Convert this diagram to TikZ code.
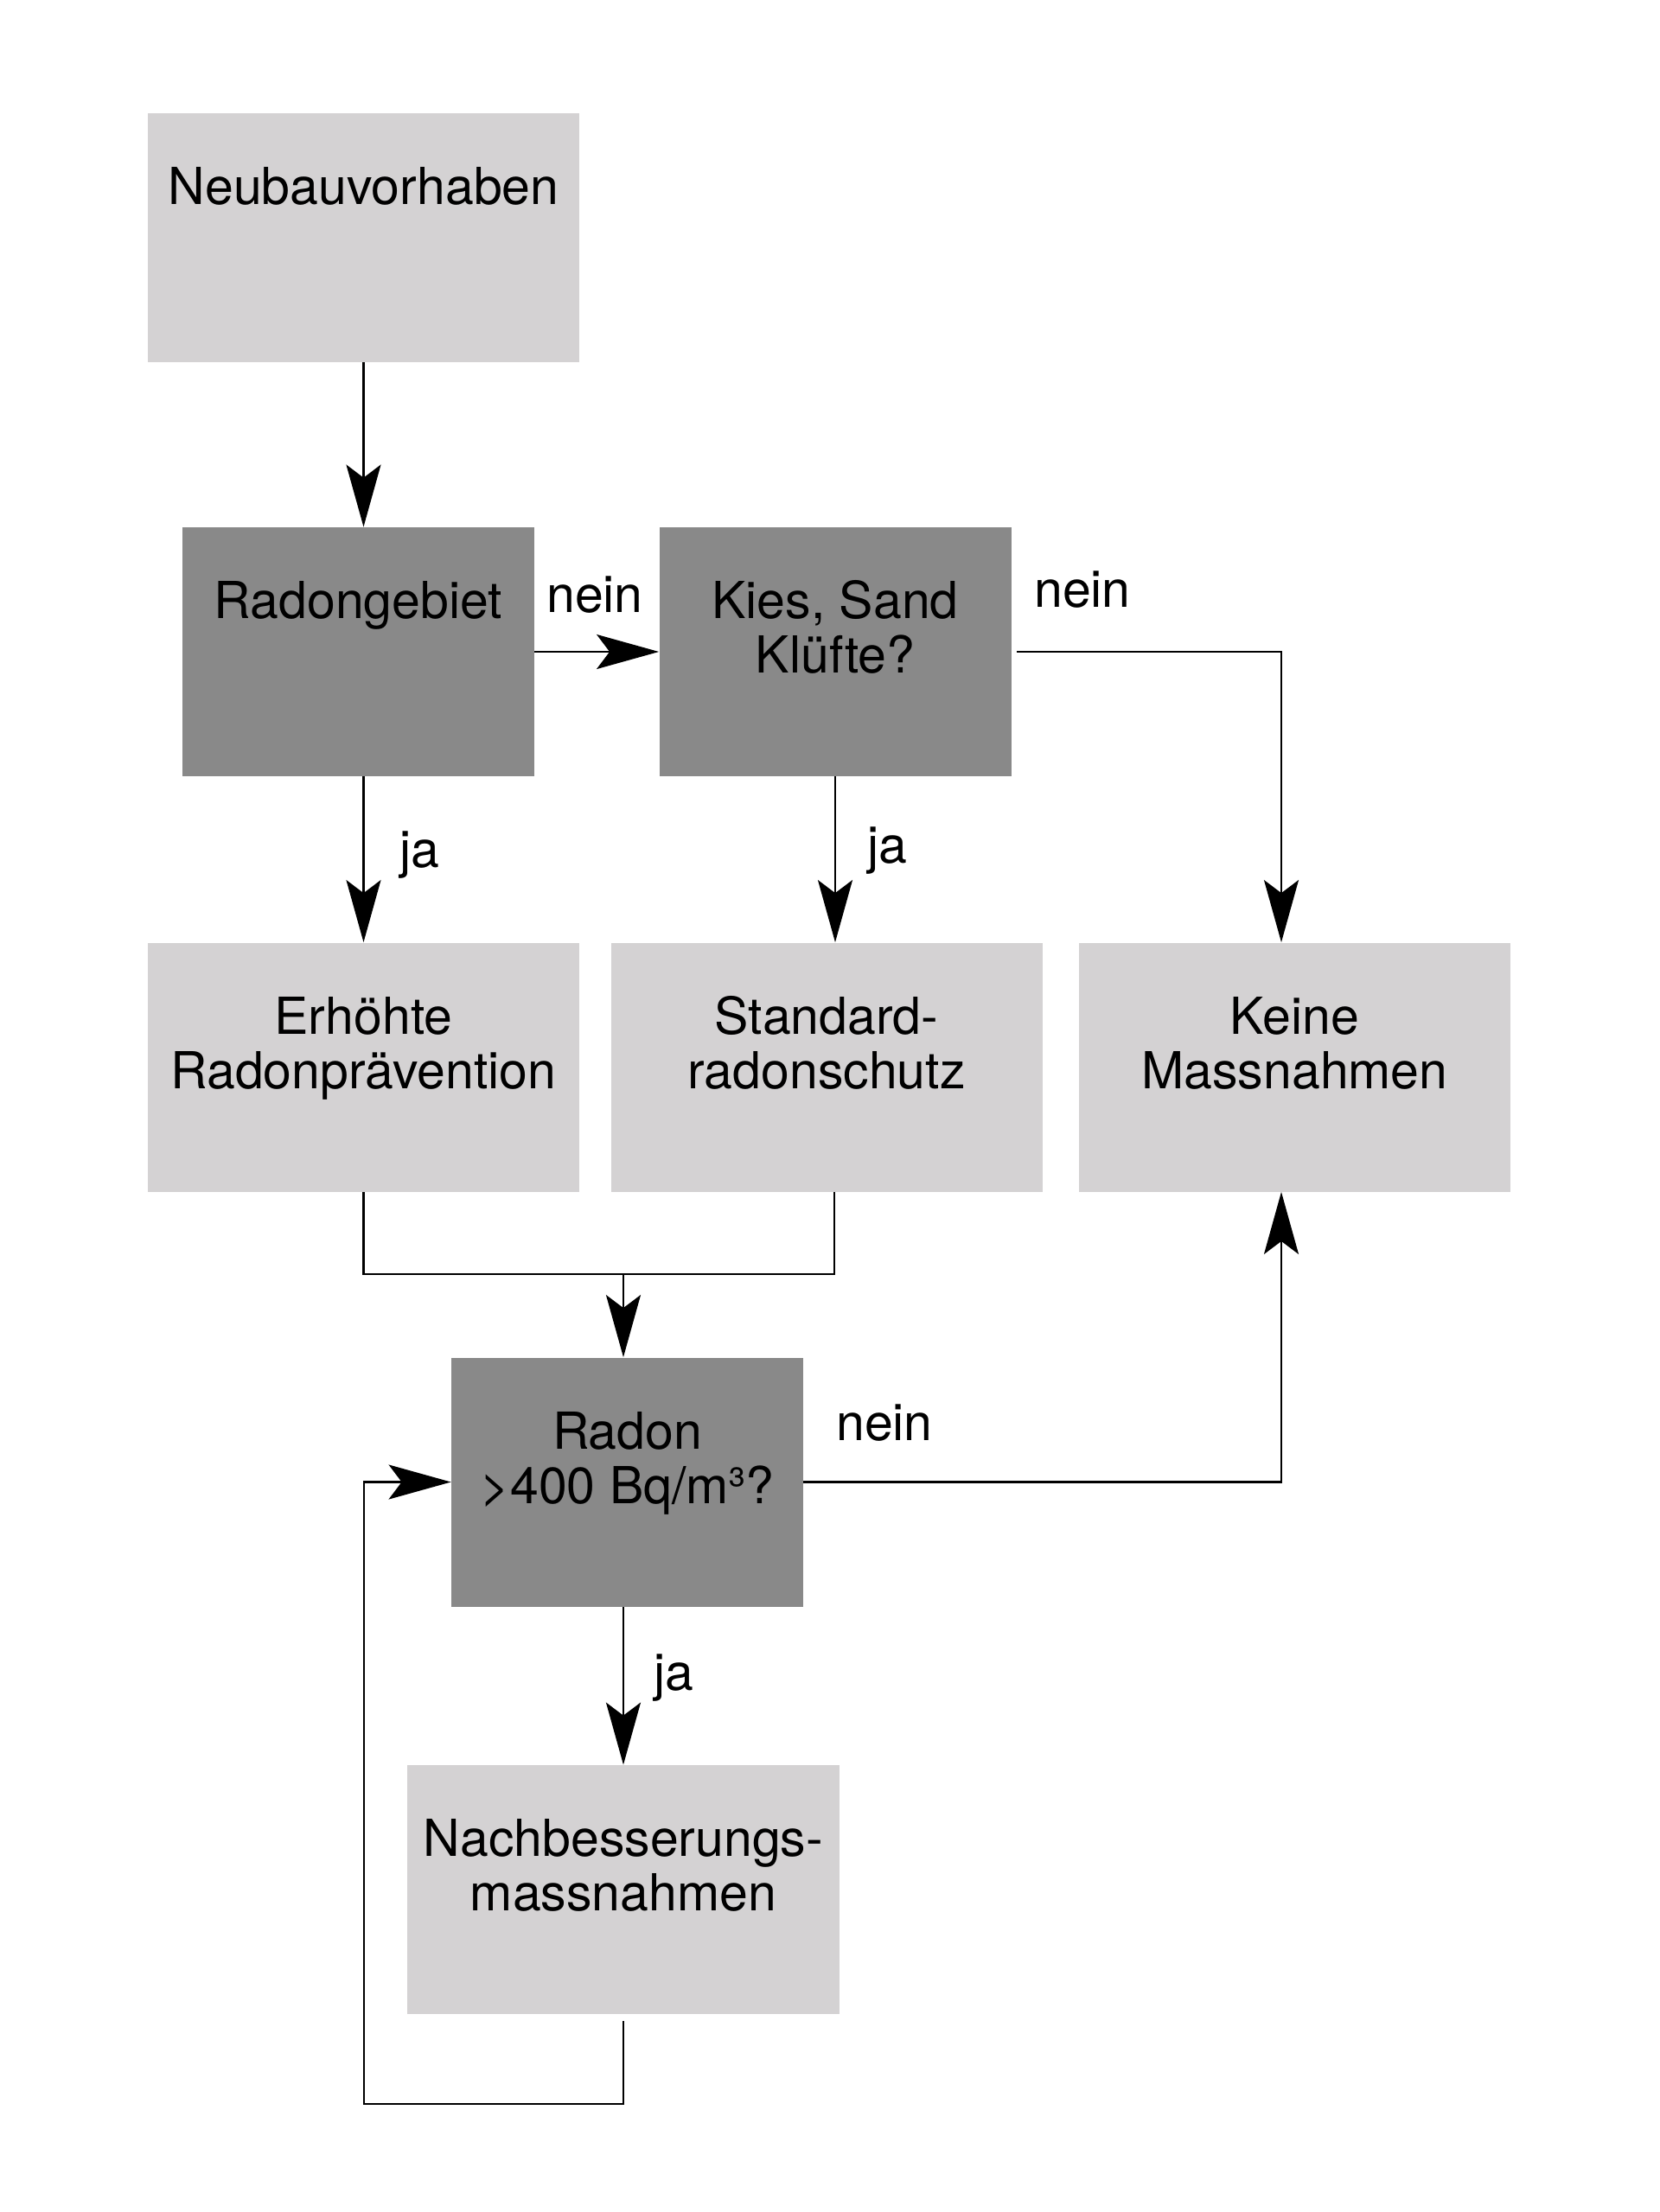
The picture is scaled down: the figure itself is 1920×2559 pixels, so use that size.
\documentclass[tikz,border=0pt]{standalone}
\usepackage{fontspec}
\setmainfont{TeX Gyre Heros}
\usetikzlibrary{arrows.meta,calc}
\definecolor{lightbox}{RGB}{212,210,211}
\definecolor{darkbox}{RGB}{137,137,137}
\newcommand\figfont{\fontsize{29.5pt}{31.5pt}\selectfont}
\newcommand\twoline[2]{\begin{tabular}[t]{@{}c@{}}#1\\#2\end{tabular}}
\begin{document}
\begin{tikzpicture}[x=0.5pt,y=-0.5pt,
  lbox/.style={fill=lightbox,draw=none,inner sep=0,minimum width=249.5pt,minimum height=144pt},
  dbox/.style={fill=darkbox,draw=none,inner sep=0,minimum width=203.5pt,minimum height=144pt},
  txt/.style={font=\figfont,anchor=base,inner sep=0},
  conn/.style={line width=1.1pt,black},
  arr/.style={conn,-{Stealth[length=36pt,width=20pt,inset=7.5pt]}}]
\fill[white] (0,0) rectangle (1920,2559);
\useasboundingbox (0,0) rectangle (1920,2559);
% boxes
\node[lbox] (N) at (420.5,275) {};
\node[dbox] (R) at (414.5,754) {};
\node[dbox] (K) at (966,754) {};
\node[lbox] (E) at (420.5,1234.5) {};
\node[lbox] (S) at (956,1234.5) {};
\node[lbox] (M) at (1497.5,1234.5) {};
\node[dbox] (Q) at (725.5,1714.5) {};
\node[lbox,minimum width=250pt] (B) at (721,2186) {};
% box texts
\node[txt] (tN) at (420.5,236) {Neubauvorhaben};
\node[txt] (tR) at (414.5,715) {Radongebiet};
\node[txt] (tK) at (966,715) {\twoline{Kies, Sand}{Klüfte?}};
\node[txt] (tE) at (420.5,1196) {\twoline{Erhöhte}{Radonprävention}};
\node[txt] (tS) at (956,1196) {\twoline{Standard-}{radonschutz}};
\node[txt] (tM) at (1497.5,1196) {\twoline{Keine}{Massnahmen}};
\node[txt] (tQ) at (725.5,1676) {\twoline{Radon}{>400 Bq/m³?}};
\node[txt] (tB) at (721,2147) {\twoline{Nachbesserungs-}{massnahmen}};
% labels
\node[txt] (l1) at (688,708) {nein};
\node[txt] (l2) at (1252,702) {nein};
\node[txt] (l3) at (485,1003) {ja};
\node[txt] (l4) at (1026,998) {ja};
\node[txt] (l5) at (1023,1666) {nein};
\node[txt] (l6) at (779,1955) {ja};
% helper coordinates
\coordinate (Mtop) at ([xshift=-7.75pt]M.north);
\coordinate (Mbot) at ([xshift=-7.75pt]M.south);
\coordinate (mergeR) at (965,1474);
\coordinate (mergeC) at (721,1474);
\coordinate (loopB) at (421,2434);
% connectors
\draw[arr] (N.south) -- (N.south |- R.north);
\draw[arr] (R.east) -- (K.west);
\draw[arr] ([xshift=3pt]K.east) -| (Mtop);
\draw[arr] (E.north |- R.south) -- (E.north);
\draw[arr] (K.south) -- (K.south |- S.north);
\draw[conn] (mergeR |- S.south) -- (mergeR) -- (E.south |- mergeR) -- (E.south);
\draw[arr] (mergeC) -- (mergeC |- Q.north);
\draw[arr] (Q.east) -| (Mbot);
\draw[arr] (B.north |- Q.south) -- (B.north);
\draw[arr] ([yshift=-4pt]B.south) -- (B.south |- loopB) -- (loopB) -- (loopB |- Q.west) -- (Q.west);
\end{tikzpicture}
\end{document}
